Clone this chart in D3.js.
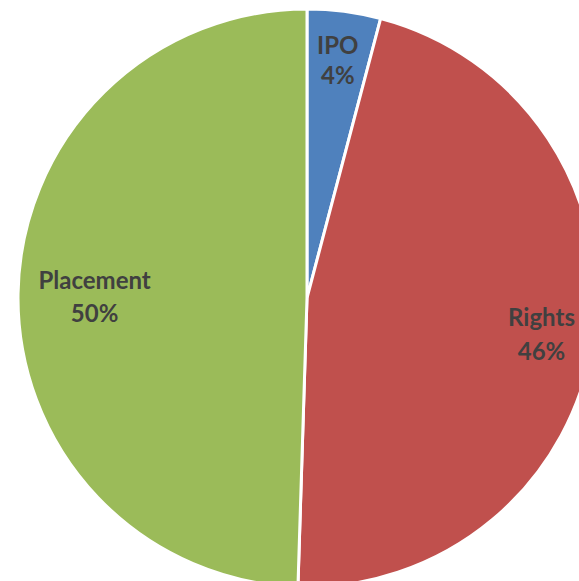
<!DOCTYPE html>
<html>
<head>
<meta charset="utf-8">
<script src="https://cdn.jsdelivr.net/npm/d3@7"></script>
<style>
  body { margin: 0; background: #fff; }
  svg { display: block; }
</style>
</head>
<body>
<div id="chart"></div>
<script>
var categories = ["IPO", "Rights", "Placement"];
var values = [4.1, 46.4, 49.5];
var pctLabels = ["4%", "46%", "50%"];

var colors = ["#4F81BD", "#C0504D", "#9BBB59"];

var width = 579,
  height = 581;
var cx = 307,
  cy = 298,
  radius = 289;

// where each label sits, as a share of the radius
var labelPos = { IPO: 0.83, Rights: 0.82, Placement: 0.735 };

var data = categories.map(function(c, i) {
  return { indx: i, name: c, value: values[i], pct: pctLabels[i] };
});

var pie = d3.pie()
  .sort(null)
  .value(function(d) {
    return d.value;
  });

var arc = d3.arc()
  .innerRadius(0)
  .outerRadius(radius);

var svg = d3.select("#chart").append("svg")
  .attr("width", width)
  .attr("height", height);

var g = svg.append("g")
  .attr("transform", "translate(" + cx + "," + cy + ")");

var arcs = pie(data);

g.selectAll("path")
  .data(arcs)
  .enter().append("path")
  .attr("d", arc)
  .style("fill", function(d) {
    return colors[d.data.indx];
  })
  .style("stroke", "#fff")
  .style("stroke-width", 3)
  .style("stroke-linejoin", "round");

var labels = g.selectAll("text.lbl")
  .data(arcs)
  .enter().append("text")
  .attr("class", "lbl")
  .attr("text-anchor", "middle")
  .style("font-family", "Lato, 'Open Sans', sans-serif")
  .style("font-weight", "bold")
  .style("font-size", "24px")
  .style("fill", "#404040")
  .attr("transform", function(d) {
    var r = radius * labelPos[d.data.name];
    var a = (d.startAngle + d.endAngle) / 2;
    return "translate(" + (Math.sin(a) * r) + "," + (-Math.cos(a) * r) + ")";
  });

labels.append("tspan")
  .attr("x", 0)
  .attr("dy", "-0.25em")
  .text(function(d) {
    return d.data.name;
  });

labels.append("tspan")
  .attr("x", 0)
  .attr("dy", function(d) {
    return d.data.name == "IPO" ? "1.25em" : "1.4em";
  })
  .text(function(d) {
    return d.data.pct;
  });
</script>
</body>
</html>
